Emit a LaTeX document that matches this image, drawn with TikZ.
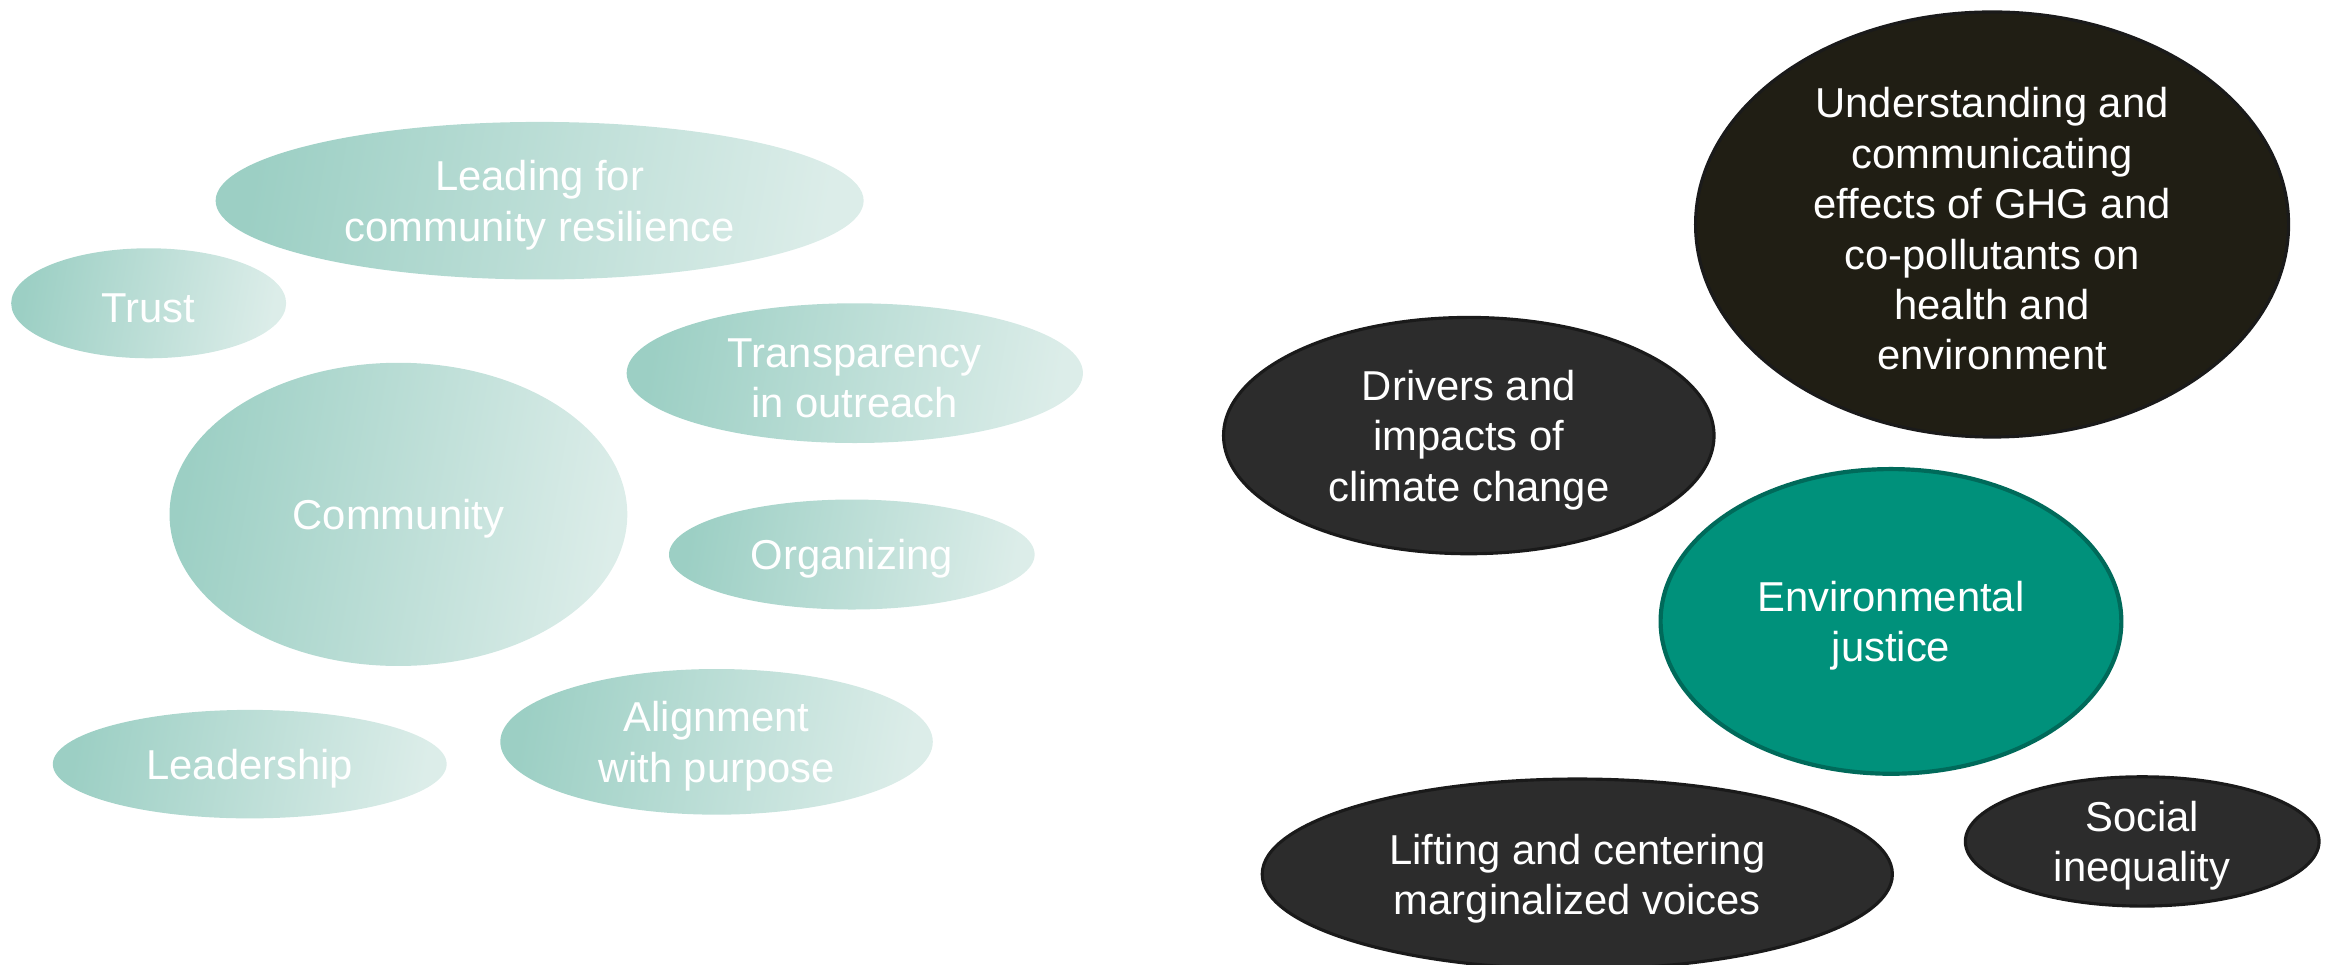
\documentclass[tikz,border=0pt]{standalone}
\usepackage{fontspec}
\setmainfont{Liberation Sans}
\usetikzlibrary{shapes.geometric}
\definecolor{paleA}{HTML}{9CCFC4}
\definecolor{paleB}{HTML}{DCEDE9}
\definecolor{ejfill}{HTML}{00917B}
\definecolor{ejline}{HTML}{006A5A}
\definecolor{darkfill}{HTML}{2C2C2C}
\definecolor{darkline}{HTML}{1A1A1A}
\definecolor{ghgfill}{HTML}{201E14}
\newcommand{\lift}{\rule{0pt}{15pt}}
\tikzset{
  bubble/.style={ellipse, inner sep=-8pt, text=white, align=center,
    font=\fontsize{16}{19.3}\selectfont},
  pale/.style={bubble, left color=paleA, right color=paleB, shading angle=80},
  dark/.style={bubble, fill=darkfill, draw=darkline, line width=1.2pt},
}
\begin{document}
\begin{tikzpicture}[x=0.02cm,y=-0.02cm]
\useasboundingbox (0,0) rectangle (1568,649.1);

% left side
\node[pale, minimum width=8.72cm, minimum height=2.12cm] (lead) at (363,135) {\lift Leading for\\community resilience};
\node[pale, minimum width=3.70cm, minimum height=1.48cm] (trust) at (100,204) {\lift Trust};
\node[pale, minimum width=6.14cm, minimum height=1.88cm] (transp) at (575,251) {\lift Transparency\\in outreach};
\node[pale, minimum width=6.16cm, minimum height=4.08cm] (comm) at (268,346) {\lift Community};
\node[pale, minimum width=4.92cm, minimum height=1.48cm] (org) at (573,373) {\lift Organizing};
\node[pale, minimum width=5.30cm, minimum height=1.46cm] (leader) at (168,514) {\lift Leadership};
\node[pale, minimum width=5.82cm, minimum height=1.96cm] (align) at (482,499) {\lift Alignment\\with purpose};

% right side
\node[dark, fill=ghgfill, minimum width=7.98cm, minimum height=5.72cm] (ghg) at (1340,151) {\lift Understanding and\\communicating\\effects of GHG and\\co-pollutants on\\health and\\environment};
\node[dark, minimum width=6.60cm, minimum height=3.18cm] (drivers) at (988,293) {\lift Drivers and\\impacts of\\climate change};
\node[bubble, fill=ejfill, draw=ejline, line width=1.6pt, minimum width=6.20cm, minimum height=4.10cm] (ej) at (1272,418) {\lift Environmental\\justice};
\node[dark, minimum width=8.48cm, minimum height=2.56cm] (voices) at (1061,588) {\lift Lifting and centering\\marginalized voices};
\node[dark, minimum width=4.76cm, minimum height=1.74cm] (social) at (1441,566) {\lift Social\\inequality};
\end{tikzpicture}
\end{document}
